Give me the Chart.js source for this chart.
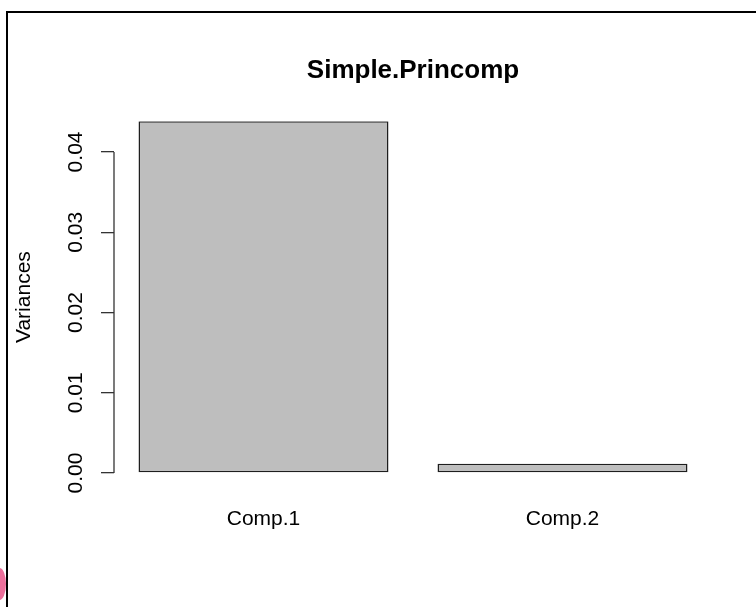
<!DOCTYPE html>
<html>
<head>
<meta charset="utf-8">
<script src="https://cdn.jsdelivr.net/npm/chart.js@4/dist/chart.umd.min.js"></script>
<style>
  body { margin: 0; background: #fff; overflow: hidden; }
  #wrap { position: relative; width: 756px; height: 607px; }
  #chart { position: absolute; left: 0; top: 0; }
  #frame {
    position: absolute; left: 6px; top: 11px; width: 800px; height: 650px;
    border-left: 2px solid #000; border-top: 2px solid #000;
  }
  #blob {
    position: absolute; left: -7px; top: 568px; width: 13px; height: 32px;
    border-radius: 50%; background: #ec6f9b;
  }
</style>
</head>
<body>
<div id="wrap">
  <canvas id="chart" width="756" height="607"></canvas>
  <div id="frame"></div>
  <div id="blob"></div>
</div>
<script>
const components = ["Comp.1", "Comp.2"];
const variances = [0.04383, 0.00116];
const yTickStep = 0.01;
const yTickTop = 0.04;   // last labelled tick, the axis line stops here

const FONT = "'Liberation Sans', Arial, sans-serif";
Chart.defaults.color = "#000";
Chart.defaults.font.family = FONT;

// R draws the y axis line only between the first and last tick
const axisLine = {
  id: "axisLine",
  afterDraw(chart) {
    const y = chart.scales.y;
    const ctx = chart.ctx;
    const first = y.ticks[0].value;
    const last = y.ticks[y.ticks.length - 1].value;
    ctx.save();
    ctx.strokeStyle = "#333";
    ctx.lineWidth = 1.3;
    ctx.beginPath();
    ctx.moveTo(y.right, y.getPixelForValue(first));
    ctx.lineTo(y.right, y.getPixelForValue(last));
    ctx.stroke();
    ctx.restore();
  }
};

const ctx = document.getElementById("chart").getContext("2d");
new Chart(ctx, {
  type: "bar",
  data: {
    labels: components,
    datasets: [{
      label: "Variances",
      data: variances,
      backgroundColor: "#bebebe",
      borderColor: "#1e1e1e",
      borderWidth: 1.5,
      borderSkipped: false,
      barPercentage: 0.836,
      categoryPercentage: 1,
    }],
  },
  options: {
    responsive: false,
    animation: false,
    layout: { padding: { left: 0, right: 44, top: 0, bottom: 0 } },
    plugins: {
      legend: { display: false },
      tooltip: { enabled: false },
      title: {
        display: true,
        fullSize: false,   // centre over the plot region like R does
        text: "Simple.Princomp",
        color: "#000",
        font: { family: FONT, size: 26, weight: "bold" },
        padding: { top: 55, bottom: 35 },
      },
    },
    scales: {
      x: {
        grid: { display: false, drawTicks: false },
        border: { display: false },
        ticks: { font: { size: 21 }, padding: 34 },
        afterFit: (scale) => { scale.height = 134; },
      },
      y: {
        min: 0,
        max: Math.max(...variances),
        border: { display: false },
        grid: {
          drawOnChartArea: false,
          drawTicks: true,
          tickLength: 13,
          color: "#333",
          lineWidth: 1.3,
        },
        ticks: {
          stepSize: yTickStep,
          includeBounds: false,
          minRotation: 90,
          maxRotation: 90,
          crossAlign: "center",
          padding: 4,
          font: { size: 21 },
          callback: (v) => v.toFixed(2),
        },
        afterBuildTicks: (scale) => {
          scale.ticks = scale.ticks.filter(t => t.value <= yTickTop + 1e-9);
        },
        title: {
          display: true,
          text: "Variances",
          font: { size: 21 },
          padding: { top: 12, bottom: 0 },
        },
        afterFit: (scale) => { scale.width = 114; },
      },
    },
  },
  plugins: [axisLine],
});
</script>
</body>
</html>
